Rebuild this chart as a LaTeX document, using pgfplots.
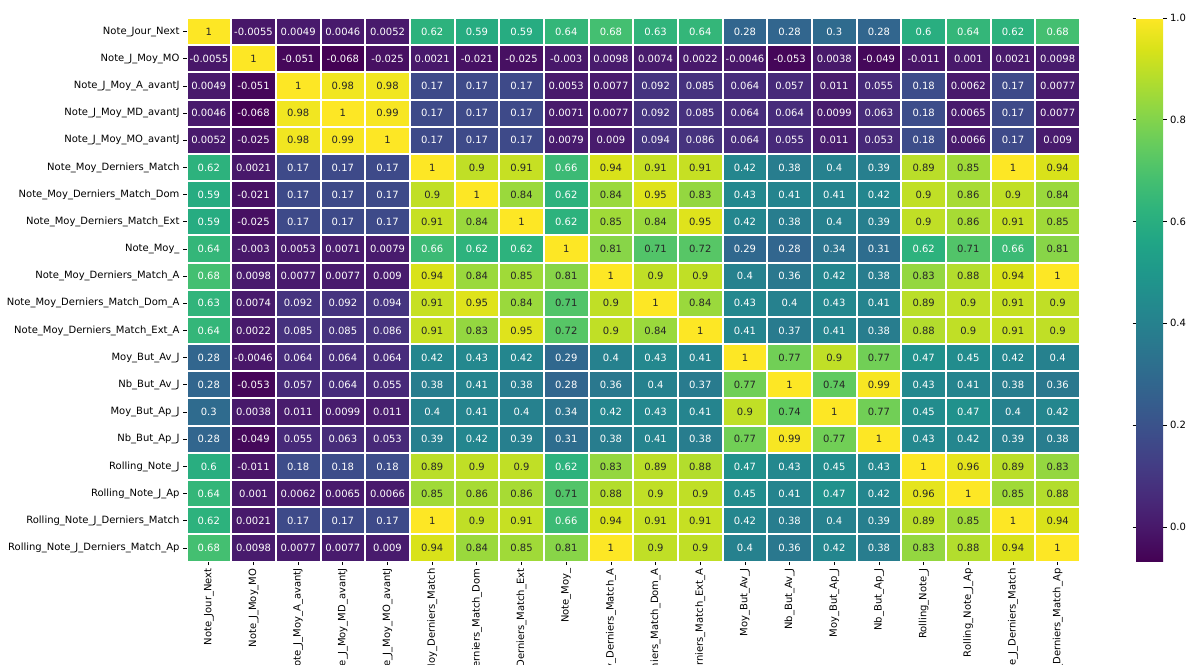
\documentclass[border=0pt]{standalone}
\usepackage{pgfplots}
\pgfplotsset{compat=1.18}
\usepackage{pgfplotstable}
\usepackage{fontspec}
\setmainfont{DejaVu Sans}
\definecolor{dk}{HTML}{262626}

% correlation matrix: x = column, y = row, c = value as printed
\pgfplotstableread[row sep=\\]{
x y c\\
0 0 1\\1 0 -0.0055\\2 0 0.0049\\3 0 0.0046\\4 0 0.0052\\5 0 0.62\\6 0 0.59\\7 0 0.59\\8 0 0.64\\9 0 0.68\\10 0 0.63\\11 0 0.64\\12 0 0.28\\13 0 0.28\\14 0 0.3\\15 0 0.28\\16 0 0.6\\17 0 0.64\\18 0 0.62\\19 0 0.68\\
0 1 -0.0055\\1 1 1\\2 1 -0.051\\3 1 -0.068\\4 1 -0.025\\5 1 0.0021\\6 1 -0.021\\7 1 -0.025\\8 1 -0.003\\9 1 0.0098\\10 1 0.0074\\11 1 0.0022\\12 1 -0.0046\\13 1 -0.053\\14 1 0.0038\\15 1 -0.049\\16 1 -0.011\\17 1 0.001\\18 1 0.0021\\19 1 0.0098\\
0 2 0.0049\\1 2 -0.051\\2 2 1\\3 2 0.98\\4 2 0.98\\5 2 0.17\\6 2 0.17\\7 2 0.17\\8 2 0.0053\\9 2 0.0077\\10 2 0.092\\11 2 0.085\\12 2 0.064\\13 2 0.057\\14 2 0.011\\15 2 0.055\\16 2 0.18\\17 2 0.0062\\18 2 0.17\\19 2 0.0077\\
0 3 0.0046\\1 3 -0.068\\2 3 0.98\\3 3 1\\4 3 0.99\\5 3 0.17\\6 3 0.17\\7 3 0.17\\8 3 0.0071\\9 3 0.0077\\10 3 0.092\\11 3 0.085\\12 3 0.064\\13 3 0.064\\14 3 0.0099\\15 3 0.063\\16 3 0.18\\17 3 0.0065\\18 3 0.17\\19 3 0.0077\\
0 4 0.0052\\1 4 -0.025\\2 4 0.98\\3 4 0.99\\4 4 1\\5 4 0.17\\6 4 0.17\\7 4 0.17\\8 4 0.0079\\9 4 0.009\\10 4 0.094\\11 4 0.086\\12 4 0.064\\13 4 0.055\\14 4 0.011\\15 4 0.053\\16 4 0.18\\17 4 0.0066\\18 4 0.17\\19 4 0.009\\
0 5 0.62\\1 5 0.0021\\2 5 0.17\\3 5 0.17\\4 5 0.17\\5 5 1\\6 5 0.9\\7 5 0.91\\8 5 0.66\\9 5 0.94\\10 5 0.91\\11 5 0.91\\12 5 0.42\\13 5 0.38\\14 5 0.4\\15 5 0.39\\16 5 0.89\\17 5 0.85\\18 5 1\\19 5 0.94\\
0 6 0.59\\1 6 -0.021\\2 6 0.17\\3 6 0.17\\4 6 0.17\\5 6 0.9\\6 6 1\\7 6 0.84\\8 6 0.62\\9 6 0.84\\10 6 0.95\\11 6 0.83\\12 6 0.43\\13 6 0.41\\14 6 0.41\\15 6 0.42\\16 6 0.9\\17 6 0.86\\18 6 0.9\\19 6 0.84\\
0 7 0.59\\1 7 -0.025\\2 7 0.17\\3 7 0.17\\4 7 0.17\\5 7 0.91\\6 7 0.84\\7 7 1\\8 7 0.62\\9 7 0.85\\10 7 0.84\\11 7 0.95\\12 7 0.42\\13 7 0.38\\14 7 0.4\\15 7 0.39\\16 7 0.9\\17 7 0.86\\18 7 0.91\\19 7 0.85\\
0 8 0.64\\1 8 -0.003\\2 8 0.0053\\3 8 0.0071\\4 8 0.0079\\5 8 0.66\\6 8 0.62\\7 8 0.62\\8 8 1\\9 8 0.81\\10 8 0.71\\11 8 0.72\\12 8 0.29\\13 8 0.28\\14 8 0.34\\15 8 0.31\\16 8 0.62\\17 8 0.71\\18 8 0.66\\19 8 0.81\\
0 9 0.68\\1 9 0.0098\\2 9 0.0077\\3 9 0.0077\\4 9 0.009\\5 9 0.94\\6 9 0.84\\7 9 0.85\\8 9 0.81\\9 9 1\\10 9 0.9\\11 9 0.9\\12 9 0.4\\13 9 0.36\\14 9 0.42\\15 9 0.38\\16 9 0.83\\17 9 0.88\\18 9 0.94\\19 9 1\\
0 10 0.63\\1 10 0.0074\\2 10 0.092\\3 10 0.092\\4 10 0.094\\5 10 0.91\\6 10 0.95\\7 10 0.84\\8 10 0.71\\9 10 0.9\\10 10 1\\11 10 0.84\\12 10 0.43\\13 10 0.4\\14 10 0.43\\15 10 0.41\\16 10 0.89\\17 10 0.9\\18 10 0.91\\19 10 0.9\\
0 11 0.64\\1 11 0.0022\\2 11 0.085\\3 11 0.085\\4 11 0.086\\5 11 0.91\\6 11 0.83\\7 11 0.95\\8 11 0.72\\9 11 0.9\\10 11 0.84\\11 11 1\\12 11 0.41\\13 11 0.37\\14 11 0.41\\15 11 0.38\\16 11 0.88\\17 11 0.9\\18 11 0.91\\19 11 0.9\\
0 12 0.28\\1 12 -0.0046\\2 12 0.064\\3 12 0.064\\4 12 0.064\\5 12 0.42\\6 12 0.43\\7 12 0.42\\8 12 0.29\\9 12 0.4\\10 12 0.43\\11 12 0.41\\12 12 1\\13 12 0.77\\14 12 0.9\\15 12 0.77\\16 12 0.47\\17 12 0.45\\18 12 0.42\\19 12 0.4\\
0 13 0.28\\1 13 -0.053\\2 13 0.057\\3 13 0.064\\4 13 0.055\\5 13 0.38\\6 13 0.41\\7 13 0.38\\8 13 0.28\\9 13 0.36\\10 13 0.4\\11 13 0.37\\12 13 0.77\\13 13 1\\14 13 0.74\\15 13 0.99\\16 13 0.43\\17 13 0.41\\18 13 0.38\\19 13 0.36\\
0 14 0.3\\1 14 0.0038\\2 14 0.011\\3 14 0.0099\\4 14 0.011\\5 14 0.4\\6 14 0.41\\7 14 0.4\\8 14 0.34\\9 14 0.42\\10 14 0.43\\11 14 0.41\\12 14 0.9\\13 14 0.74\\14 14 1\\15 14 0.77\\16 14 0.45\\17 14 0.47\\18 14 0.4\\19 14 0.42\\
0 15 0.28\\1 15 -0.049\\2 15 0.055\\3 15 0.063\\4 15 0.053\\5 15 0.39\\6 15 0.42\\7 15 0.39\\8 15 0.31\\9 15 0.38\\10 15 0.41\\11 15 0.38\\12 15 0.77\\13 15 0.99\\14 15 0.77\\15 15 1\\16 15 0.43\\17 15 0.42\\18 15 0.39\\19 15 0.38\\
0 16 0.6\\1 16 -0.011\\2 16 0.18\\3 16 0.18\\4 16 0.18\\5 16 0.89\\6 16 0.9\\7 16 0.9\\8 16 0.62\\9 16 0.83\\10 16 0.89\\11 16 0.88\\12 16 0.47\\13 16 0.43\\14 16 0.45\\15 16 0.43\\16 16 1\\17 16 0.96\\18 16 0.89\\19 16 0.83\\
0 17 0.64\\1 17 0.001\\2 17 0.0062\\3 17 0.0065\\4 17 0.0066\\5 17 0.85\\6 17 0.86\\7 17 0.86\\8 17 0.71\\9 17 0.88\\10 17 0.9\\11 17 0.9\\12 17 0.45\\13 17 0.41\\14 17 0.47\\15 17 0.42\\16 17 0.96\\17 17 1\\18 17 0.85\\19 17 0.88\\
0 18 0.62\\1 18 0.0021\\2 18 0.17\\3 18 0.17\\4 18 0.17\\5 18 1\\6 18 0.9\\7 18 0.91\\8 18 0.66\\9 18 0.94\\10 18 0.91\\11 18 0.91\\12 18 0.42\\13 18 0.38\\14 18 0.4\\15 18 0.39\\16 18 0.89\\17 18 0.85\\18 18 1\\19 18 0.94\\
0 19 0.68\\1 19 0.0098\\2 19 0.0077\\3 19 0.0077\\4 19 0.009\\5 19 0.94\\6 19 0.84\\7 19 0.85\\8 19 0.81\\9 19 1\\10 19 0.9\\11 19 0.9\\12 19 0.4\\13 19 0.36\\14 19 0.42\\15 19 0.38\\16 19 0.83\\17 19 0.88\\18 19 0.94\\19 19 1\\
}\corr

\pgfplotsset{/pgf/number format/assume math mode=true}

\begin{document}
\begin{tikzpicture}
\begin{axis}[
    at={(186.5pt,-18pt)}, anchor=north west,
    scale only axis, width=893.5pt, height=543.5pt,
    xmin=-0.5, xmax=19.5, ymin=-0.5, ymax=19.5, y dir=reverse,
    enlargelimits=false,
    axis on top,
    axis line style={draw=none},
    xtick={0,1,...,19}, ytick={0,1,...,19},
    xticklabels={Note\_Jour\_Next, Note\_J\_Moy\_MO, Note\_J\_Moy\_A\_avantJ,
      Note\_J\_Moy\_MD\_avantJ, Note\_J\_Moy\_MO\_avantJ, Note\_Moy\_Derniers\_Match,
      Note\_Moy\_Derniers\_Match\_Dom, Note\_Moy\_Derniers\_Match\_Ext, Note\_Moy\_,
      Note\_Moy\_Derniers\_Match\_A, Note\_Moy\_Derniers\_Match\_Dom\_A,
      Note\_Moy\_Derniers\_Match\_Ext\_A, Moy\_But\_Av\_J, Nb\_But\_Av\_J,
      Moy\_But\_Ap\_J, Nb\_But\_Ap\_J, Rolling\_Note\_J, Rolling\_Note\_J\_Ap,
      Rolling\_Note\_J\_Derniers\_Match, Rolling\_Note\_J\_Derniers\_Match\_Ap},
    yticklabels={Note\_Jour\_Next, Note\_J\_Moy\_MO, Note\_J\_Moy\_A\_avantJ,
      Note\_J\_Moy\_MD\_avantJ, Note\_J\_Moy\_MO\_avantJ, Note\_Moy\_Derniers\_Match,
      Note\_Moy\_Derniers\_Match\_Dom, Note\_Moy\_Derniers\_Match\_Ext, Note\_Moy\_,
      Note\_Moy\_Derniers\_Match\_A, Note\_Moy\_Derniers\_Match\_Dom\_A,
      Note\_Moy\_Derniers\_Match\_Ext\_A, Moy\_But\_Av\_J, Nb\_But\_Av\_J,
      Moy\_But\_Ap\_J, Nb\_But\_Ap\_J, Rolling\_Note\_J, Rolling\_Note\_J\_Ap,
      Rolling\_Note\_J\_Derniers\_Match, Rolling\_Note\_J\_Derniers\_Match\_Ap},
    xticklabel style={rotate=90, anchor=east},
    tick align=outside, major tick length=3.5pt,
    xtick pos=left, ytick pos=left,
    tick style={black, line width=0.8pt},
    minor xtick={-0.5,0.5,...,19.5}, minor ytick={-0.5,0.5,...,19.5},
    minor tick length=0pt,
    xminorgrids, yminorgrids,
    minor grid style={white, line width=2pt},
    colormap/viridis,
    point meta min=-0.068, point meta max=1,
    colorbar,
    colorbar/width=27pt,
    colorbar shift/.style={xshift=56pt},
    colorbar style={
        at={(parent axis.north east)}, anchor=north west,
        scale only axis,
        width=27pt,
        xmin=0, xmax=1, enlargelimits=false,
        axis line style={draw=none},
        ytick={0,0.2,0.4,0.6,0.8,1},
        yticklabels={0.0,0.2,0.4,0.6,0.8,1.0},
        major tick length=3.5pt, tick align=outside,
        tick style={black, line width=0.8pt},
    },
  ]
  \addplot[matrix plot*, mesh/cols=20, point meta=explicit]
    table[x=x, y=y, meta=c] {\corr};
  % labels on bright cells
  \addplot[draw=none, mark=none, point meta=explicit symbolic,
    restrict expr to domain={\thisrow{c}}{0.7:2},
    nodes near coords={\pgfplotspointmeta},
    every node near coord/.append style={anchor=center, text=dk}]
    table[x=x, y=y, meta=c] {\corr};
  % labels on dark cells
  \addplot[draw=none, mark=none, point meta=explicit symbolic,
    restrict expr to domain={\thisrow{c}}{-1:0.7},
    nodes near coords={\pgfplotspointmeta},
    every node near coord/.append style={anchor=center, text=white}]
    table[x=x, y=y, meta=c] {\corr};
\end{axis}
\pgfresetboundingbox
\useasboundingbox (0,0) rectangle (1198pt,-664pt);
\end{tikzpicture}
\end{document}
